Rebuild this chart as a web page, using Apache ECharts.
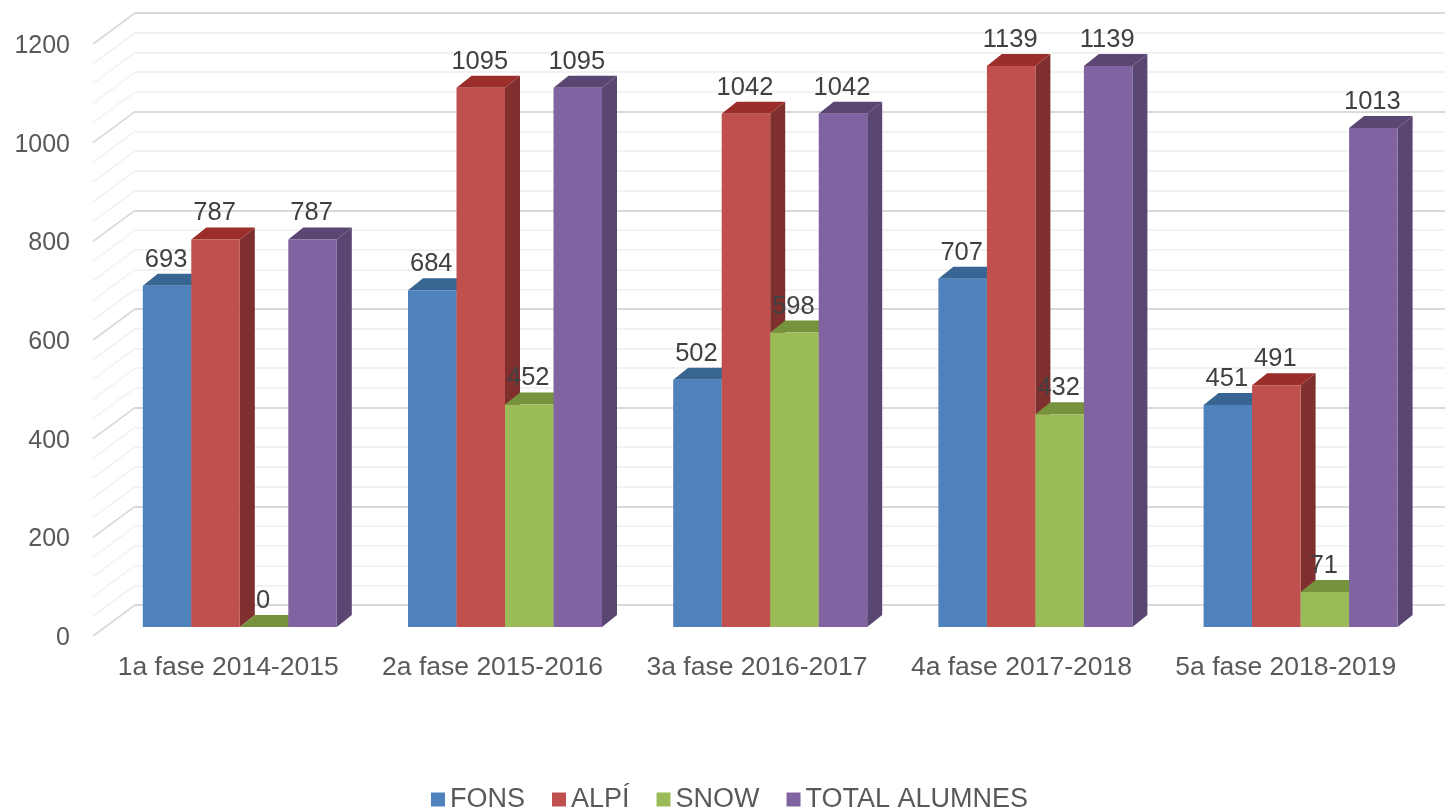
<!DOCTYPE html>
<html><head><meta charset="utf-8">
<style>html,body{margin:0;padding:0;background:#fff}#c{width:1445px;height:811px}</style>
<script src="https://cdn.jsdelivr.net/npm/echarts@6/dist/echarts.min.js"></script>
</head><body><div id="c"></div>
<script>
const categories = ['1a fase 2014-2015','2a fase 2015-2016','3a fase 2016-2017','4a fase 2017-2018','5a fase 2018-2019'];
const fons = [693,684,502,707,451];
const alpi = [787,1095,1042,1139,491];
const snow = [0,452,598,432,71];
const total = [787,1095,1042,1139,1013];
const majorTicks = [0,200,400,600,800,1000,1200];
const minorTicks = [40,80,120,160,240,280,320,360,440,480,520,560,640,680,720,760,840,880,920,960,1040,1080,1120,1160];

const FONT = '"Liberation Sans", Arial, sans-serif';
const DX = 15, DY = 12;
const BAR_RATIO = 48.5 / 265.2;

function barSeries(name, values, idx, front, side, top) {
  return {
    name, type: 'custom', xAxisIndex: 2, yAxisIndex: 2, z: 3 + idx,
    itemStyle: { color: front },
    encode: { x: 0, y: 1 },
    data: values.map((v, i) => [i, v]),
    renderItem(params, api) {
      const p = api.coord([api.value(0), api.value(1)]);
      const base = api.coord([api.value(0), 0]);
      const w = api.size([1, 0])[0] * BAR_RATIO;
      const x0 = p[0] + (idx - 2) * w, x1 = x0 + w;
      const yt = p[1], yb = base[1];
      return { type: 'group', children: [
        { type: 'polygon', shape: { points: [[x1,yt],[x1+DX,yt-DY],[x1+DX,yb-DY],[x1,yb]] }, style: { fill: side } },
        { type: 'polygon', shape: { points: [[x0,yt],[x0+DX,yt-DY],[x1+DX,yt-DY],[x1,yt]] }, style: { fill: top } },
        { type: 'rect', shape: { x: x0, y: yt, width: w, height: yb - yt }, style: { fill: front } },
        { type: 'text', z2: 50, style: { x: x0 + w/2 - 1, y: yt - 26, text: String(api.value(1)), align: 'center', verticalAlign: 'middle',
            font: '25.5px ' + FONT, fill: '#404040' } }
      ]};
    }
  };
}
function diagSeries(name, ticks, color) {
  return {
    name, type: 'custom', xAxisIndex: 1, yAxisIndex: 1, z: 1, silent: true,
    encode: { x: 0, y: 1 },
    data: ticks.map(t => [0, t]),
    renderItem(params, api) {
      const p = api.coord([0, api.value(1)]);
      return { type: 'line', shape: { x1: p[0], y1: p[1], x2: p[0] - 42, y2: p[1] + 31 }, style: { stroke: color, lineWidth: 1.6 } };
    }
  };
}
const chart = echarts.init(document.getElementById('c'), null, { renderer: 'canvas' });
const hiddenAxis = { show: false };
chart.setOption({
  animation: false,
  backgroundColor: '#ffffff',
  legend: {
    left: 426, top: 781, itemWidth: 14, itemHeight: 14, itemGap: 27, icon: 'rect',
    data: ['FONS','ALPÍ','SNOW','TOTAL ALUMNES'],
    textStyle: { fontFamily: FONT, fontSize: 27, color: '#595959' }
  },
  grid: [
    { left: 96, width: 1322, top: 46, height: 592 },
    { left: 135, width: 1310, top: 13, height: 592 },
    { left: 107.2, width: 1326, top: 36, height: 591 }
  ],
  xAxis: [
    { gridIndex: 0, type: 'category', data: categories, axisLine: { show: false }, axisTick: { show: false }, splitLine: { show: false },
      axisLabel: { fontFamily: FONT, fontSize: 26.5, color: '#595959', margin: 16, interval: 0 } },
    { gridIndex: 1, type: 'value', min: 0, max: 1, ...hiddenAxis },
    { gridIndex: 2, type: 'category', data: categories, ...hiddenAxis }
  ],
  yAxis: [
    { gridIndex: 0, type: 'value', min: 0, max: 1200, interval: 200, axisLine: { show: false }, axisTick: { show: false }, splitLine: { show: false },
      axisLabel: { fontFamily: FONT, fontSize: 25, color: '#595959', margin: 26, formatter: v => String(v) } },
    { gridIndex: 1, type: 'value', min: 0, max: 1200, interval: 200, axisLine: { show: false }, axisTick: { show: false }, axisLabel: { show: false },
      splitLine: { show: true, lineStyle: { color: '#d9d9d9', width: 2 } },
      minorTick: { show: false, splitNumber: 5 },
      minorSplitLine: { show: true, lineStyle: { color: '#f2f2f2', width: 2 } } },
    { gridIndex: 2, type: 'value', min: 0, max: 1200, interval: 200, ...hiddenAxis }
  ],
  series: [
    diagSeries('major', majorTicks, '#d9d9d9'),
    diagSeries('minor', minorTicks, '#f2f2f2'),
    barSeries('FONS', fons, 0, '#4f81bd', '#386592', '#386592'),
    barSeries('ALPÍ', alpi, 1, '#c0504d', '#7f2f2d', '#9b2e2b'),
    barSeries('SNOW', snow, 2, '#9bbb59', '#76923c', '#76923c'),
    barSeries('TOTAL ALUMNES', total, 3, '#8064a2', '#5a4672', '#5a4672')
  ]
});
</script></body></html>
